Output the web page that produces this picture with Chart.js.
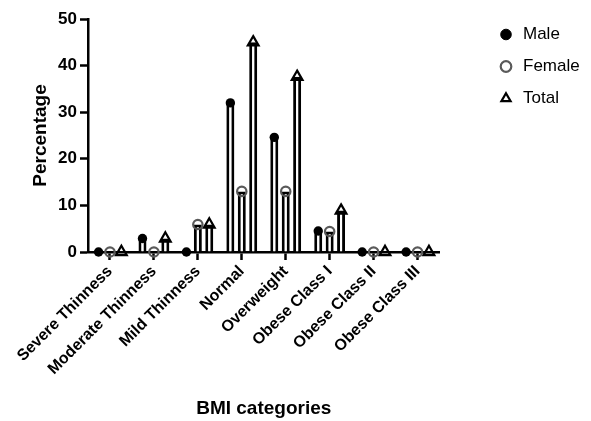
<!DOCTYPE html>
<html>
<head>
<meta charset="utf-8">
<script src="https://cdn.jsdelivr.net/npm/chart.js@4/dist/chart.umd.min.js"></script>
<style>
  html, body { margin: 0; padding: 0; background: #fff; }
  #wrap { width: 591px; height: 421px; }
</style>
</head>
<body>
<div id="wrap"><canvas id="chart" width="591" height="421"></canvas></div>
<script>
const categories = ["Severe Thinness", "Moderate Thinness", "Mild Thinness", "Normal",
    "Overweight", "Obese Class I", "Obese Class II", "Obese Class III"];
const male = [0, 2.9, 0, 32, 24.6, 4.5, 0, 0];
const female = [0, 0, 5.9, 13, 13, 4.4, 0, 0];
const total = [0, 2.9, 5.9, 45, 37.6, 8.9, 0, 0];
const yTicks = [0, 10, 20, 30, 40, 50];

const FONT = "'Liberation Sans', Arial, sans-serif";
const GREY = "#5a5a5a";

// marker on top of each needle bar
function drawMarker(ctx, kind, x, y) {
    ctx.save();
    if (kind === "male") {
        ctx.fillStyle = "#000";
        ctx.beginPath();
        ctx.arc(x, y, 4.7, 0, Math.PI * 2);
        ctx.fill();
    } else if (kind === "female") {
        ctx.strokeStyle = GREY;
        ctx.lineWidth = 2.2;
        ctx.beginPath();
        ctx.arc(x, y, 4.7, 0, Math.PI * 2);
        ctx.stroke();
    } else {
        const r = 6.2;
        ctx.strokeStyle = "#000";
        ctx.lineWidth = 2.2;
        ctx.beginPath();
        ctx.moveTo(x, y - r);
        ctx.lineTo(x + r * 0.866, y + r * 0.5);
        ctx.lineTo(x - r * 0.866, y + r * 0.5);
        ctx.closePath();
        ctx.stroke();
    }
    ctx.restore();
}

const markerPlugin = {
    id: "markers",
    afterDatasetsDraw(chart) {
        chart.data.datasets.forEach((ds, i) => {
            const meta = chart.getDatasetMeta(i);
            meta.data.forEach(bar => drawMarker(chart.ctx, ds.marker, bar.x, bar.y));
        });
    }
};

function needle(label, data, marker) {
    return {
        label: label,
        data: data,
        marker: marker,
        backgroundColor: "#fff",
        borderColor: "#000",
        borderWidth: 3,
        categoryPercentage: 0.78,
        barPercentage: 1,
        maxBarThickness: 8
    };
}

// empty axis used only to reserve room
function spacer(position, size) {
    return {
        type: "linear",
        position: position,
        display: true,
        afterFit: s => {
            if (s.isHorizontal()) s.height = size; else s.width = size;
        },
        grid: { display: false },
        border: { display: false },
        ticks: { display: false }
    };
}

const ctx = document.getElementById("chart").getContext("2d");
const chart = new Chart(ctx, {
    type: "bar",
    data: {
        labels: categories,
        datasets: [
            needle("Male", male, "male"),
            needle("Female", female, "female"),
            needle("Total", total, "total")
        ]
    },
    options: {
        responsive: false,
        animation: false,
        layout: { padding: { top: 11, left: 0, right: 12, bottom: 0 } },
        plugins: {
            tooltip: { enabled: false },
            legend: {
                position: "right",
                align: "start",
                labels: {
                    color: "#000",
                    font: { family: FONT, size: 17 },
                    usePointStyle: true,
                    boxHeight: 7.5,
                    padding: 15,
                    generateLabels: () => [
                        { text: "Male", pointStyle: "circle", fillStyle: "#000", strokeStyle: "#000", lineWidth: 1, datasetIndex: 0 },
                        { text: "Female", pointStyle: "circle", fillStyle: "#fff", strokeStyle: GREY, lineWidth: 2.2, datasetIndex: 1 },
                        { text: "Total", pointStyle: "triangle", fillStyle: "#fff", strokeStyle: "#000", lineWidth: 2.2, datasetIndex: 2 }
                    ]
                }
            }
        },
        scales: {
            x: {
                offset: true,
                afterFit: s => { s.height = 169; },
                grid: { display: true, drawOnChartArea: false, offset: false,
                        tickLength: 8, tickWidth: 2.5, tickColor: "#000" },
                border: { color: "#000", width: 2.5 },
                ticks: {
                    color: "#000",
                    font: { family: FONT, size: 16, weight: "bold" },
                    minRotation: 45, maxRotation: 45, autoSkip: false, padding: 2
                },
                title: {
                    display: true, text: "BMI categories", color: "#000",
                    font: { family: FONT, size: 19, weight: "bold" },
                    padding: { top: 0, bottom: 1 }
                }
            },
            y: {
                min: 0, max: 50,
                afterFit: s => { s.width = 88; },
                afterBuildTicks: s => { s.ticks = yTicks.map(v => ({ value: v })); },
                grid: { display: true, drawOnChartArea: false,
                        tickLength: 8, tickWidth: 2.5, tickColor: "#000" },
                border: { color: "#000", width: 2.5 },
                ticks: {
                    color: "#000",
                    font: { family: FONT, size: 17, weight: "bold" },
                    padding: 3
                },
                title: {
                    display: true, text: "Percentage", color: "#000",
                    font: { family: FONT, size: 19, weight: "bold" },
                    padding: { top: 29, bottom: 0 }
                }
            },
            gapTop: spacer("top", 8),
            gapRight: spacer("right", 43)
        }
    },
    plugins: [markerPlugin]
});
</script>
</body>
</html>
